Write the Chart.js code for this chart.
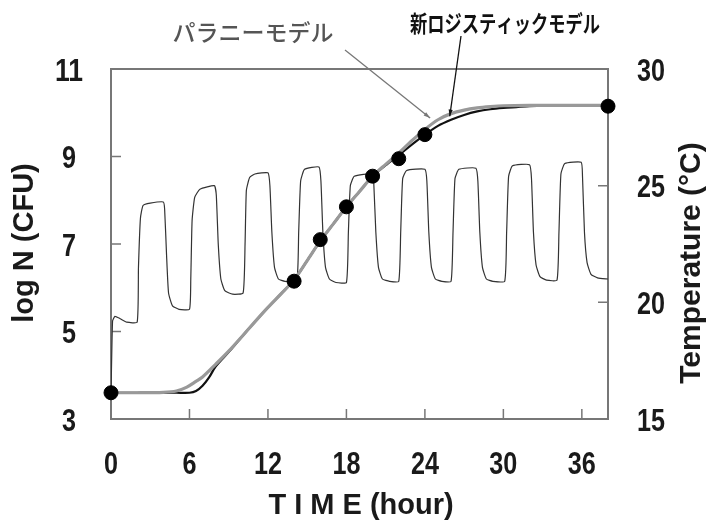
<!DOCTYPE html>
<html>
<head>
<meta charset="utf-8">
<script src="https://cdn.jsdelivr.net/npm/chart.js@4.4.1/dist/chart.umd.min.js"></script>
<style>
  html, body { margin: 0; padding: 0; background: #fff; }
  #wrap { width: 706px; height: 522px; }
</style>
</head>
<body>
<div id="wrap"><canvas id="growth" width="706" height="522"></canvas></div>
<script>
// observed counts (dots)
const obsTime = [0, 14, 16, 18, 20, 22, 24, 38];
const obsLogN = [3.6, 6.15, 7.1, 7.85, 8.55, 8.95, 9.5, 10.15];

// Baranyi model (grey)
const baranyiTime = [0, 2, 4, 5, 5.8, 6.5, 7, 8, 9, 10, 11, 12, 13, 14, 15, 16, 17, 18, 19, 20, 21, 22, 23, 24, 25, 26, 27, 28, 29, 30, 32, 34, 36, 38];
const baranyiLogN = [3.6, 3.6, 3.61, 3.64, 3.73, 3.86, 3.96, 4.25, 4.55, 4.88, 5.22, 5.55, 5.86, 6.18, 6.62, 7.07, 7.46, 7.85, 8.2, 8.55, 8.82, 9.08, 9.36, 9.62, 9.84, 9.98, 10.06, 10.11, 10.14, 10.16, 10.17, 10.17, 10.17, 10.17];

// new logistic model (black)
const logisticTime = [0, 2, 4, 5, 6, 6.5, 7, 7.5, 8, 9, 10, 11, 12, 13, 14, 15, 16, 17, 18, 19, 20, 21, 22, 23, 24, 25, 26, 27, 28, 29, 30, 31, 32, 34, 36, 38];
const logisticLogN = [3.6, 3.6, 3.6, 3.6, 3.6, 3.64, 3.76, 3.95, 4.2, 4.53, 4.88, 5.22, 5.55, 5.86, 6.18, 6.62, 7.07, 7.46, 7.85, 8.2, 8.55, 8.8, 9.03, 9.27, 9.5, 9.7, 9.84, 9.95, 10.03, 10.08, 10.11, 10.13, 10.15, 10.17, 10.17, 10.17];

// temperature log (thin line, right axis)
const tempTime = [0, 0.12, 0.3, 0.7, 1.2, 2.0,
  2.1, 2.25, 2.45, 3.0, 4.0,
  4.1, 4.25, 4.4, 4.7, 5.2, 6.0,
  6.1, 6.2, 6.4, 6.8, 7.9,
  8.05, 8.2, 8.4, 8.7, 9.3, 10.1,
  10.25, 10.35, 10.6, 11.0, 12.0,
  12.15, 12.3, 12.5, 12.8, 13.3, 14.2,
  14.35, 14.5, 14.8, 15.9,
  16.05, 16.2, 16.4, 16.7, 17.2, 18.0,
  18.15, 18.3, 18.6, 20.0,
  20.1, 20.25, 20.45, 20.75, 21.3, 22.0,
  22.15, 22.3, 22.6, 24.0,
  24.15, 24.3, 24.5, 24.8, 25.3, 26.0,
  26.15, 26.3, 26.6, 27.9,
  28.05, 28.2, 28.4, 28.7, 29.2, 30.1,
  30.25, 30.4, 30.7, 32.0,
  32.15, 32.3, 32.5, 32.8, 33.3, 34.1,
  34.25, 34.4, 34.7, 35.95,
  36.05, 36.2, 36.4, 36.7, 37.2, 38.0];
const tempValue = [16.0, 19.2, 19.4, 19.3, 19.15, 19.15,
  21.5, 23.6, 24.15, 24.25, 24.3,
  24.0, 22.0, 20.4, 19.85, 19.7, 19.7,
  21.0, 23.5, 24.5, 24.85, 25.0,
  24.6, 22.5, 21.0, 20.5, 20.35, 20.4,
  22.5, 24.8, 25.35, 25.5, 25.55,
  25.0, 23.0, 21.5, 21.0, 20.9, 20.9,
  23.0, 25.2, 25.7, 25.8,
  25.2, 23.0, 21.5, 21.0, 20.85, 20.85,
  23.0, 25.0, 25.4, 25.5,
  25.0, 23.0, 21.5, 21.0, 20.9, 20.9,
  23.0, 25.3, 25.65, 25.7,
  25.2, 23.0, 21.5, 21.0, 20.9, 20.9,
  23.0, 25.3, 25.7, 25.75,
  25.2, 23.0, 21.5, 21.0, 20.9, 20.9,
  23.0, 25.4, 25.85, 25.9,
  25.3, 23.0, 21.6, 21.1, 20.95, 20.95,
  23.0, 25.5, 25.95, 26.0,
  25.4, 23.0, 21.7, 21.2, 21.05, 21.0];

// tick labels
const timeTicks = [0, 6, 12, 18, 24, 30, 36];
const logNTicks = [3, 5, 7, 9, 11];
const tempTicks = [15, 20, 25, 30];

const numFont = '"Liberation Sans", Arial, sans-serif';
const jpFont = '"Noto Sans CJK JP", sans-serif';

function pairs(xs, ys) {
  return xs.map((x, i) => ({ x: x, y: ys[i] }));
}

// narrow digits like the scanned figure: squeeze with maxWidth
function digits(ctx, txt, x, y) {
  ctx.fillText(txt, x, y, 14 * txt.length);
}

const decorPlugin = {
  id: 'decor',
  beforeDatasetsDraw(chart) {
    const { ctx, chartArea: a, scales } = chart;
    ctx.save();
    ctx.strokeStyle = '#777';
    ctx.lineWidth = 2;
    ctx.strokeRect(a.left, a.top, a.right - a.left, a.bottom - a.top);
    ctx.lineWidth = 1.5;
    ctx.beginPath();
    timeTicks.forEach(v => {
      if (v === 0) return;
      const px = scales.x.getPixelForValue(v);
      ctx.moveTo(px, a.bottom);
      ctx.lineTo(px, a.bottom - 10);
    });
    logNTicks.forEach(v => {
      if (v === 3 || v === 11) return;
      const py = scales.y.getPixelForValue(v);
      ctx.moveTo(a.left, py);
      ctx.lineTo(a.left + 10, py);
    });
    tempTicks.forEach(v => {
      if (v === 15 || v === 30) return;
      const py = scales.temp.getPixelForValue(v);
      ctx.moveTo(a.right, py);
      ctx.lineTo(a.right - 10, py);
    });
    ctx.stroke();

    // tick labels
    ctx.fillStyle = '#1a1a1a';
    ctx.textAlign = 'center';
    ctx.textBaseline = 'middle';
    ctx.font = 'bold 31px ' + numFont;
    logNTicks.forEach(v => digits(ctx, String(v), 69, scales.y.getPixelForValue(v) + 3));
    tempTicks.forEach(v => digits(ctx, String(v), 651, scales.temp.getPixelForValue(v) + 3));
    timeTicks.forEach(v => digits(ctx, String(v), scales.x.getPixelForValue(v), 465));
    ctx.restore();
  },
  afterDatasetsDraw(chart) {
    const { ctx, scales } = chart;
    ctx.save();
    // axis titles
    ctx.fillStyle = '#1a1a1a';
    ctx.textAlign = 'center';
    ctx.textBaseline = 'middle';
    ctx.font = 'bold 29px ' + numFont;
    ctx.fillText('T I M E (hour)', 361, 506);
    ctx.save();
    ctx.translate(25, 243);
    ctx.rotate(-Math.PI / 2);
    ctx.fillText('log N (CFU)', 0, 0);
    ctx.restore();
    ctx.save();
    ctx.translate(692, 263);
    ctx.rotate(-Math.PI / 2);
    ctx.font = 'bold 30px ' + numFont;
    ctx.fillText('Temperature (°C)', 0, 0);
    ctx.restore();

    // model labels with pointer lines
    const arrow = (x0, y0, x1, y1, color) => {
      ctx.strokeStyle = color;
      ctx.fillStyle = color;
      ctx.lineWidth = 1.3;
      ctx.beginPath();
      ctx.moveTo(x0, y0);
      ctx.lineTo(x1, y1);
      ctx.stroke();
      const ang = Math.atan2(y1 - y0, x1 - x0);
      ctx.beginPath();
      ctx.moveTo(x1, y1);
      ctx.lineTo(x1 - 7 * Math.cos(ang - 0.3), y1 - 7 * Math.sin(ang - 0.3));
      ctx.lineTo(x1 - 7 * Math.cos(ang + 0.3), y1 - 7 * Math.sin(ang + 0.3));
      ctx.closePath();
      ctx.fill();
    };
    arrow(345, 50, scales.x.getPixelForValue(24.4), scales.y.getPixelForValue(9.88), '#777');
    arrow(461, 36, scales.x.getPixelForValue(25.9), scales.y.getPixelForValue(9.92), '#111');

    ctx.font = '500 23px ' + jpFont;
    ctx.fillStyle = '#555';
    ctx.fillText('パラニーモデル', 253, 32, 163);
    ctx.font = 'bold 23px ' + jpFont;
    ctx.fillStyle = '#111';
    ctx.fillText('新ロジスティックモデル', 505, 23, 190);
    ctx.restore();
  }
};

const tickSet = list => scale => { scale.ticks = list.map(v => ({ value: v })); };

new Chart(document.getElementById('growth'), {
  type: 'scatter',
  data: {
    datasets: [
      {
        label: 'Observed',
        data: pairs(obsTime, obsLogN),
        yAxisID: 'y',
        showLine: false,
        pointRadius: 7,
        pointBackgroundColor: '#000',
        pointBorderColor: '#000',
        clip: false,
        order: 0
      },
      {
        label: 'パラニーモデル',
        data: pairs(baranyiTime, baranyiLogN),
        yAxisID: 'y',
        showLine: true,
        borderColor: '#999',
        borderWidth: 3.2,
        pointRadius: 0,
        tension: 0.3,
        order: 1
      },
      {
        label: '新ロジスティックモデル',
        data: pairs(logisticTime, logisticLogN),
        yAxisID: 'y',
        showLine: true,
        borderColor: '#111',
        borderWidth: 2.2,
        pointRadius: 0,
        tension: 0.3,
        order: 2
      },
      {
        label: 'Temperature',
        data: pairs(tempTime, tempValue),
        yAxisID: 'temp',
        showLine: true,
        borderColor: '#333',
        borderWidth: 1.2,
        pointRadius: 0,
        tension: 0.15,
        order: 3
      }
    ]
  },
  options: {
    responsive: false,
    animation: false,
    layout: { padding: { top: 69, left: 0, right: 0, bottom: 0 } },
    plugins: { legend: { display: false }, tooltip: { enabled: false } },
    scales: {
      x: {
        type: 'linear',
        min: 0,
        max: 38,
        afterBuildTicks: tickSet(timeTicks),
        afterFit: s => { s.height = 103; },
        grid: { display: false, drawTicks: false },
        border: { display: false },
        ticks: { display: false }
      },
      y: {
        position: 'left',
        min: 3,
        max: 11,
        afterBuildTicks: tickSet(logNTicks),
        afterFit: s => { s.width = 111; },
        grid: { display: false, drawTicks: false },
        border: { display: false },
        ticks: { display: false }
      },
      temp: {
        position: 'right',
        min: 15,
        max: 30,
        afterBuildTicks: tickSet(tempTicks),
        afterFit: s => { s.width = 98; },
        grid: { display: false, drawTicks: false },
        border: { display: false },
        ticks: { display: false }
      }
    }
  },
  plugins: [decorPlugin]
});
</script>
</body>
</html>
